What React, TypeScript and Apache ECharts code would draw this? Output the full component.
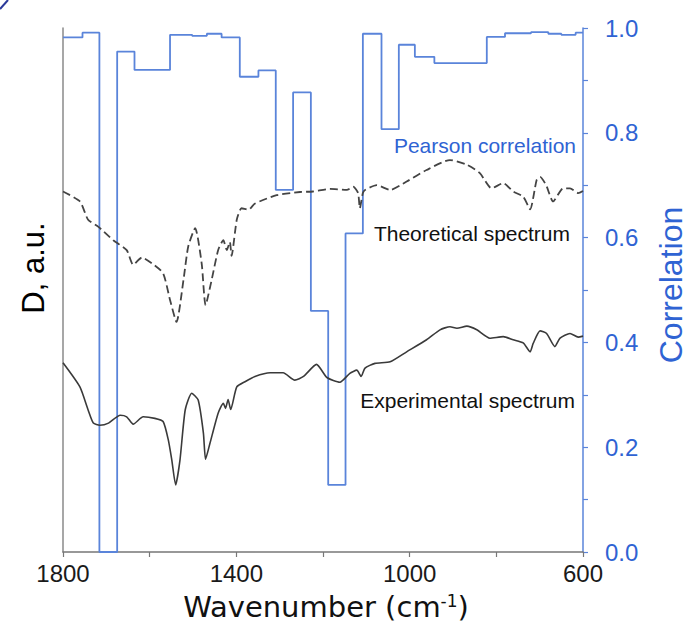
import React, { useEffect, useRef } from "react";
import * as echarts from "echarts";

// Pearson correlation: segment start wavenumber and value (step function)
const corrWave = [1800, 1755, 1716, 1675, 1635, 1553, 1502, 1468, 1434, 1392, 1349, 1309, 1269, 1228, 1188, 1148, 1108, 1065, 1025, 988, 943, 822, 780, 720, 680, 650, 617, 600];
const corrValue = [0.982, 0.991, 0.0, 0.955, 0.92, 0.987, 0.985, 0.989, 0.982, 0.907, 0.919, 0.691, 0.877, 0.46, 0.128, 0.608, 0.989, 0.807, 0.968, 0.945, 0.933, 0.983, 0.99, 0.992, 0.989, 0.987, 0.991, 0.991];

// Theoretical spectrum (arbitrary units, offset)
const theoWave = [1800, 1761, 1742, 1719, 1684, 1653, 1638, 1618, 1595, 1569, 1553, 1538, 1522, 1511, 1495, 1480, 1471, 1457, 1442, 1430, 1422, 1415, 1411, 1399, 1388, 1372, 1357, 1307, 1253, 1223, 1184, 1145, 1130, 1119, 1115, 1108, 1103, 1076, 1045, 1007, 961, 907, 868, 838, 811, 784, 761, 738, 722, 707, 699, 685, 669, 646, 630, 611, 600];
const theoValue = [0.688, 0.669, 0.634, 0.621, 0.595, 0.576, 0.548, 0.562, 0.551, 0.532, 0.481, 0.439, 0.519, 0.583, 0.618, 0.551, 0.471, 0.519, 0.576, 0.595, 0.576, 0.592, 0.565, 0.634, 0.656, 0.653, 0.665, 0.681, 0.687, 0.688, 0.693, 0.691, 0.697, 0.685, 0.656, 0.685, 0.691, 0.7, 0.691, 0.707, 0.729, 0.748, 0.739, 0.723, 0.694, 0.704, 0.688, 0.678, 0.654, 0.71, 0.716, 0.7, 0.669, 0.694, 0.694, 0.685, 0.689];

// Experimental spectrum (arbitrary units, offset)
const expWave = [1800, 1761, 1742, 1730, 1715, 1695, 1668, 1653, 1638, 1615, 1588, 1569, 1557, 1549, 1540, 1530, 1518, 1503, 1488, 1476, 1471, 1461, 1442, 1430, 1425, 1419, 1413, 1399, 1380, 1357, 1322, 1292, 1265, 1245, 1215, 1191, 1161, 1138, 1122, 1112, 1103, 1080, 1045, 1007, 961, 930, 907, 891, 868, 845, 815, 784, 761, 738, 722, 715, 699, 684, 665, 653, 630, 611, 600];
const expValue = [0.361, 0.315, 0.271, 0.246, 0.242, 0.246, 0.261, 0.258, 0.244, 0.258, 0.255, 0.249, 0.214, 0.176, 0.128, 0.176, 0.271, 0.303, 0.29, 0.227, 0.177, 0.207, 0.265, 0.284, 0.274, 0.291, 0.272, 0.315, 0.325, 0.335, 0.342, 0.342, 0.328, 0.335, 0.358, 0.333, 0.324, 0.341, 0.347, 0.335, 0.351, 0.36, 0.363, 0.382, 0.405, 0.424, 0.43, 0.427, 0.431, 0.424, 0.408, 0.411, 0.405, 0.399, 0.382, 0.398, 0.422, 0.417, 0.392, 0.408, 0.417, 0.41, 0.412];

const xTickLabels = ["1800", "1400", "1000", "600"];
const yTickLabels = ["0.0", "0.2", "0.4", "0.6", "0.8", "1.0"];

const BLUE_LINE = "#5a84da";
const BLUE_TEXT = "#2f63d3";
const SANS = "Liberation Sans, Arial, sans-serif";

export default function App() {
  const ref = useRef<HTMLDivElement>(null);
  useEffect(() => {
    if (!ref.current) return;
    const chart = echarts.init(ref.current, undefined, { renderer: "svg" });
    const zip = (a: number[], b: number[]) => a.map((w, i) => [w, b[i]]);
    chart.setOption({
      animation: false,
      backgroundColor: "#ffffff",
      grid: { left: 63, right: 105, top: 28, bottom: 71, containLabel: false, outerBoundsMode: "none" },
      xAxis: {
        type: "value",
        min: 600,
        max: 1800,
        interval: 200,
        inverse: true,
        axisLine: { show: true, lineStyle: { color: "#777", width: 1.5 } },
        axisTick: { show: true, length: 5, lineStyle: { color: "#777", width: 1.2 } },
        splitLine: { show: false },
        axisLabel: {
          margin: 9,
          fontSize: 24,
          fontFamily: SANS,
          color: "#1a1a1a",
          showMinLabel: true,
          showMaxLabel: true,
          formatter: (v: number) => (xTickLabels.includes(String(v)) ? String(v) : ""),
        },
        name: "Wavenumber (cm{sup|-1})",
        nameLocation: "middle",
        nameGap: 40,
        nameTextStyle: {
          fontSize: 29,
          fontFamily: "DejaVu Sans, sans-serif",
          color: "#111",
          padding: [0, 0, 0, 6],
          rich: {
            sup: { fontSize: 17, fontFamily: "DejaVu Sans, sans-serif", color: "#111", verticalAlign: "top", padding: [0, 0, 10, 0] },
          },
        },
      },
      yAxis: [
        {
          type: "value",
          position: "right",
          min: 0,
          max: 1,
          interval: 0.1,
          axisLine: { show: true, lineStyle: { color: BLUE_LINE, width: 1.5 } },
          axisTick: { show: true, length: 5, lineStyle: { color: BLUE_LINE, width: 1.2 } },
          splitLine: { show: false },
          axisLabel: {
            margin: 22,
            fontSize: 24,
            fontFamily: SANS,
            color: BLUE_TEXT,
            formatter: (v: number) => {
              const s = v.toFixed(1);
              return yTickLabels.includes(s) ? s : "";
            },
          },
          name: "Correlation",
          nameLocation: "middle",
          nameRotate: 90,
          nameGap: 72,
          nameTextStyle: { fontSize: 32, fontFamily: SANS, color: BLUE_TEXT, padding: [0, 0, 0, 10] },
        },
        {
          type: "value",
          position: "left",
          min: 0,
          max: 1,
          axisLine: { show: true, lineStyle: { color: "#8a8a8a", width: 1.5 } },
          axisTick: { show: false },
          axisLabel: { show: false },
          splitLine: { show: false },
          name: "D, a.u.",
          nameLocation: "middle",
          nameRotate: 90,
          nameGap: 14,
          nameTextStyle: { fontSize: 31, fontFamily: SANS, color: "#000", padding: [0, 0, 0, 44] },
        },
      ],
      series: [
        {
          name: "Pearson correlation",
          type: "line",
          yAxisIndex: 0,
          step: "end",
          symbol: "none",
          data: zip(corrWave, corrValue),
          lineStyle: { color: BLUE_LINE, width: 1.8 },
          z: 2,
        },
        {
          name: "Theoretical spectrum",
          type: "line",
          yAxisIndex: 1,
          symbol: "none",
          smooth: 0.2,
          data: zip(theoWave, theoValue),
          lineStyle: { color: "#444", width: 1.8, type: [8, 4] },
          z: 3,
        },
        {
          name: "Experimental spectrum",
          type: "line",
          yAxisIndex: 1,
          symbol: "none",
          smooth: 0.2,
          data: zip(expWave, expValue),
          lineStyle: { color: "#3a3a3a", width: 1.6 },
          z: 3,
        },
      ],
      graphic: [
        {
          type: "text",
          x: 576,
          y: 145,
          style: { text: "Pearson correlation", fontSize: 21, fontFamily: SANS, fill: BLUE_TEXT, textAlign: "right", align: "right", textVerticalAlign: "middle", verticalAlign: "middle" },
        },
        {
          type: "text",
          x: 570,
          y: 233,
          style: { text: "Theoretical spectrum", fontSize: 21, fontFamily: SANS, fill: "#111", textAlign: "right", align: "right", textVerticalAlign: "middle", verticalAlign: "middle" },
        },
        {
          type: "text",
          x: 575,
          y: 400,
          style: { text: "Experimental spectrum", fontSize: 21, fontFamily: SANS, fill: "#111", textAlign: "right", align: "right", textVerticalAlign: "middle", verticalAlign: "middle" },
        },
        {
          type: "line",
          shape: { x1: 0, y1: 9, x2: 8, y2: 0 },
          style: { stroke: "#2b3a9a", lineWidth: 2 },
        },
      ],
    });
    return () => chart.dispose();
  }, []);
  return <div ref={ref} style={{ width: 688, height: 623, position: "fixed", left: 0, top: 0 }} />;
}
